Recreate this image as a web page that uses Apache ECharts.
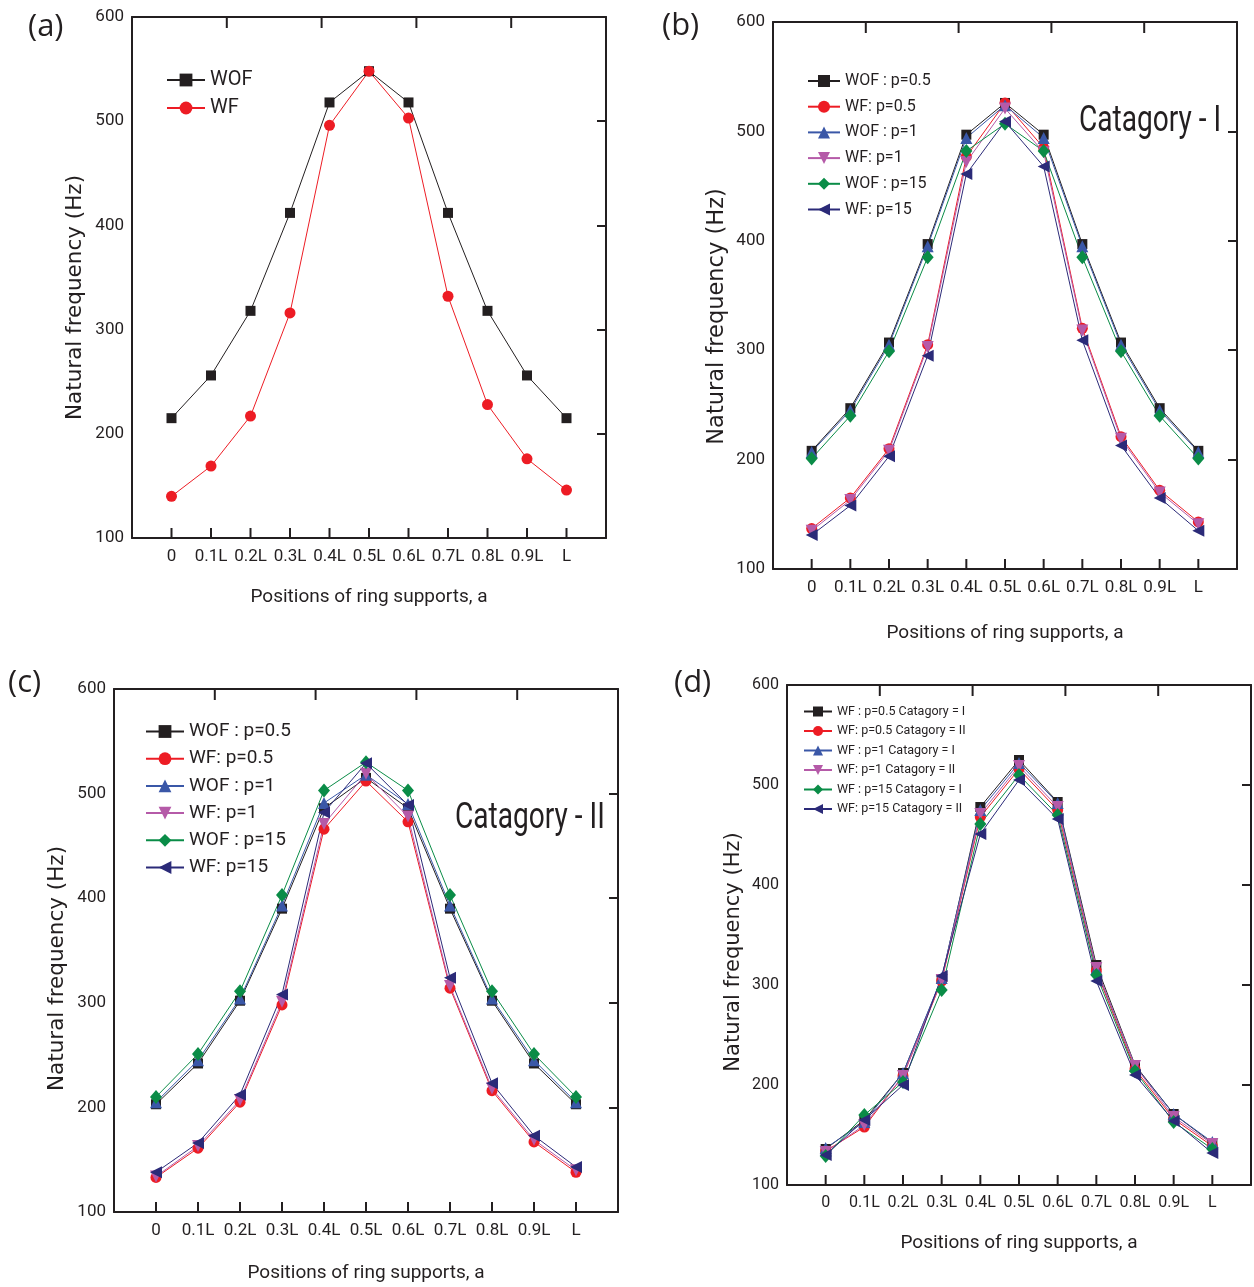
<!DOCTYPE html>
<html>
<head>
<meta charset="utf-8">
<script src="https://cdn.jsdelivr.net/npm/echarts@6/dist/echarts.min.js"></script>
<style>
  html, body { margin: 0; padding: 0; background: #fff; }
  #page { position: relative; width: 1254px; height: 1287px; }
  .layer { position: absolute; left: 0; top: 0; width: 1254px; height: 1287px; }
</style>
</head>
<body>
<div id="page">
  <div id="pa" class="layer"></div>
  <div id="pb" class="layer"></div>
  <div id="pc" class="layer"></div>
  <div id="pd" class="layer"></div>
</div>
<script>
// Support positions along the shell (x axis tick labels)
const POSITIONS = ['0', '0.1L', '0.2L', '0.3L', '0.4L', '0.5L', '0.6L', '0.7L', '0.8L', '0.9L', 'L'];
const Y_TICKS = [100, 200, 300, 400, 500, 600];
const TOP_TICKS = [0, 1, 2, 3, 4, 5];
const X_EXTENT = [-1, 11];

// (a) natural frequency, without / with fluid
const A_WOF = [215, 256, 318, 412, 518, 548, 518, 412, 318, 256, 215];
const A_WF  = [140, 169, 217, 316, 496, 548, 503, 332, 228, 176, 146];

// (b) Catagory - I
const B_WOF_05 = [208, 247, 307, 397, 497, 526, 497, 397, 307, 247, 208];
const B_WF_05  = [137, 165, 210, 305, 477, 526, 485, 320, 221, 172, 143];
const B_WOF_1  = [207, 245, 305, 395, 494, 524, 494, 395, 305, 245, 207];
const B_WF_1   = [135, 163, 208, 303, 472, 521, 481, 318, 219, 170, 141];
const B_WOF_15 = [201, 240, 299, 385, 482, 507, 482, 385, 299, 240, 201];
const B_WF_15  = [131, 158, 203, 295, 461, 509, 468, 309, 213, 165, 135];

// (c) Catagory - II
const C_WOF_05 = [203, 242, 302, 390, 486, 515, 486, 390, 302, 242, 203];
const C_WF_05  = [133, 161, 205, 298, 466, 512, 473, 314, 216, 167, 138];
const C_WOF_1  = [205, 245, 304, 393, 491, 518, 490, 393, 304, 245, 205];
const C_WF_1   = [134, 163, 207, 301, 471, 519, 478, 316, 218, 169, 140];
const C_WOF_15 = [210, 251, 311, 403, 503, 530, 503, 403, 311, 251, 210];
const C_WF_15  = [138, 166, 212, 308, 482, 529, 489, 324, 223, 173, 143];

// (d) with fluid, both categories
const D_05_I  = [136, 165, 212, 306, 478, 525, 483, 320, 220, 171, 142];
const D_05_II = [134, 158, 209, 304, 468, 516, 475, 314, 216, 166, 139];
const D_1_I   = [137, 163, 212, 307, 475, 522, 482, 316, 219, 171, 143];
const D_1_II  = [133, 160, 209, 305, 471, 519, 478, 317, 219, 168, 141];
const D_15_I  = [129, 170, 203, 295, 461, 510, 470, 310, 214, 163, 136];
const D_15_II = [130, 165, 200, 309, 451, 505, 466, 304, 210, 164, 132];

const A_NAMES = ['WOF', 'WF'];
const GROUP_NAMES = ['WOF : p=0.5', 'WF: p=0.5', 'WOF : p=1', 'WF: p=1', 'WOF : p=15', 'WF: p=15'];
const D_NAMES = ['WF : p=0.5 Catagory = I', 'WF: p=0.5 Catagory = II', 'WF : p=1 Catagory = I',
                 'WF: p=1 Catagory = II', 'WF : p=15 Catagory = I', 'WF: p=15 Catagory = II'];

const NARROW = "Roboto, 'Liberation Sans', sans-serif";
const WIDE = "'DejaVu Sans', 'Liberation Sans', sans-serif";
const INK = '#231f20';

const COLORS = {
  black: '#231f20', red: '#ed1c24', blue: '#3a57a7',
  pink: '#b55aa8', green: '#0a8c47', navy: '#2b2a78'
};
const MARKS = {
  square: { symbol: 'rect', size: 10, rotate: 0 },
  circle: { symbol: 'circle', size: 11, rotate: 0 },
  up:     { symbol: 'triangle', size: 12, rotate: 0 },
  down:   { symbol: 'triangle', size: 12, rotate: 180 },
  diamond:{ symbol: 'diamond', size: [12, 14], rotate: 0 },
  left:   { symbol: 'triangle', size: 12, rotate: 90 }
};
const GROUP_STYLE = [
  [COLORS.black, 'square'], [COLORS.red, 'circle'], [COLORS.blue, 'up'],
  [COLORS.pink, 'down'], [COLORS.green, 'diamond'], [COLORS.navy, 'left']
];

function makeSeries(name, values, color, mark) {
  const m = MARKS[mark];
  return {
    type: 'line', name: name, xAxisIndex: 0, yAxisIndex: 0,
    data: values.map((v, k) => [k, v]),
    symbol: m.symbol, symbolSize: m.size, symbolRotate: m.rotate,
    showSymbol: true, animation: false,
    lineStyle: { color: color, width: 1 },
    itemStyle: { color: color }
  };
}

// Inward frame ticks drawn by a custom series through the axes' own scales:
// one per support position on the bottom edge, five even divisions on the top edge
function tickSeries() {
  const topSpan = TOP_TICKS[TOP_TICKS.length - 1] - TOP_TICKS[0];
  const topValues = TOP_TICKS.slice(1, -1).map(t =>
    X_EXTENT[0] + (t - TOP_TICKS[0]) / topSpan * (X_EXTENT[1] - X_EXTENT[0]));
  const mk = (values, yv, dir, len) => ({
    type: 'custom', xAxisIndex: 0, yAxisIndex: 0, silent: true, animation: false, z: 20,
    clip: false,
    data: values.map(v => [v, yv]),
    renderItem: (params, api) => {
      const pt = api.coord([api.value(0), api.value(1)]);
      return {
        type: 'line',
        shape: { x1: pt[0], y1: pt[1], x2: pt[0], y2: pt[1] + dir * len },
        style: { stroke: INK, lineWidth: 2, fill: null }
      };
    }
  });
  return [
    mk(POSITIONS.map((_, k) => k), Y_TICKS[0], -1, 10),
    mk(topValues, Y_TICKS[Y_TICKS.length - 1], 1, 11)
  ];
}

const panelLabel = (text, x, y) => ({
  type: 'text', left: x, top: y,
  style: { text: text, font: "31px 'Open Sans', 'Liberation Sans', sans-serif", fill: INK }
});

// One framed plot: bottom/left labelled axes, top/right mirror axes
function panelOption(p) {
  return {
    backgroundColor: 'transparent',
    animation: false,
    grid: [{ left: p.left, top: p.top, width: p.width, height: p.height }],
    xAxis: [{
      type: 'value', gridIndex: 0, min: X_EXTENT[0], max: X_EXTENT[1], interval: 1,
      name: 'Positions of ring supports, a', nameLocation: 'middle', nameGap: p.nameGap,
      nameTextStyle: { fontFamily: NARROW, fontSize: 19, color: INK },
      axisLine: { onZero: false, lineStyle: { color: INK, width: 2 } },
      axisTick: { show: false },
      axisLabel: {
        fontFamily: NARROW, fontSize: p.tick, color: INK, margin: 10,
        formatter: v => (Number.isInteger(v) && v >= 0 && v < POSITIONS.length) ? POSITIONS[v] : ''
      },
      splitLine: { show: false }
    }, {
      type: 'value', gridIndex: 0, min: TOP_TICKS[0], max: TOP_TICKS[TOP_TICKS.length - 1], interval: 1, position: 'top',
      axisLine: { show: true, onZero: false, lineStyle: { color: INK, width: 2 } },
      axisTick: { show: false },
      axisLabel: { show: false }, splitLine: { show: false }
    }],
    yAxis: [{
      type: 'value', gridIndex: 0, min: Y_TICKS[0], max: Y_TICKS[Y_TICKS.length - 1], interval: 100,
      name: 'Natural frequency (Hz)', nameLocation: 'middle', nameGap: p.yGap,
      nameTextStyle: { fontFamily: WIDE, fontSize: p.yName, color: INK, padding: [0, p.yShift, 0, 0] },
      axisLine: { onZero: false, lineStyle: { color: INK, width: 2 } },
      axisTick: { show: false },
      axisLabel: { fontFamily: NARROW, fontSize: p.tick, color: INK, margin: 8 },
      splitLine: { show: false }
    }, {
      type: 'value', gridIndex: 0, min: 100, max: 600, interval: 100, position: 'right',
      axisLine: { show: true, onZero: false, lineStyle: { color: INK, width: 2 } },
      axisTick: { show: true, inside: true, length: 9, lineStyle: { color: INK, width: 2 } },
      axisLabel: { show: false }, splitLine: { show: false }
    }],
    legend: [Object.assign({ orient: 'vertical', selectedMode: false, padding: 0 }, p.legend)],
    series: p.series.concat(tickSeries()),
    graphic: p.graphic
  };
}

const PANEL_A = {
  left: 132, top: 17, width: 474, height: 521, tick: 17, nameGap: 50, yGap: 46, yShift: 40, yName: 21.5,
  series: [makeSeries(A_NAMES[0], A_WOF, COLORS.black, 'square'),
           makeSeries(A_NAMES[1], A_WF, COLORS.red, 'circle')],
  legend: { left: 166, top: 70, itemWidth: 38, itemHeight: 16, itemGap: 8, data: A_NAMES,
            textStyle: { fontFamily: NARROW, fontSize: 20, color: INK } },
  graphic: [panelLabel('(a)', 28, 12)]
};
const PANEL_B = {
  left: 773, top: 22, width: 464, height: 547, tick: 17, nameGap: 55, yGap: 44, yShift: 42, yName: 22.5,
  series: [B_WOF_05, B_WF_05, B_WOF_1, B_WF_1, B_WOF_15, B_WF_15].map((vals, k) =>
    makeSeries(GROUP_NAMES[k], vals, GROUP_STYLE[k][0], GROUP_STYLE[k][1])),
  legend: { left: 807, top: 73, itemWidth: 32, itemHeight: 15, itemGap: 9.7, data: GROUP_NAMES,
            textStyle: { fontFamily: NARROW, fontSize: 16, color: INK } },
  graphic: [panelLabel('(b)', 662, 11),
            { type: 'text', x: 1079, y: 104, scaleX: 0.78,
              style: { text: 'Catagory - I', font: "36px " + NARROW, fill: INK } }]
};
const PANEL_C = {
  left: 114, top: 689, width: 504, height: 523, tick: 17, nameGap: 52, yGap: 46, yShift: 36, yName: 21.5,
  series: [C_WOF_05, C_WF_05, C_WOF_1, C_WF_1, C_WOF_15, C_WF_15].map((vals, k) =>
    makeSeries(GROUP_NAMES[k], vals, GROUP_STYLE[k][0], GROUP_STYLE[k][1])),
  legend: { left: 145, top: 722, itemWidth: 38, itemHeight: 16, itemGap: 8.2, data: GROUP_NAMES,
            textStyle: { fontFamily: NARROW, fontSize: 19, color: INK } },
  graphic: [panelLabel('(c)', 8, 668),
            { type: 'text', x: 455, y: 801, scaleX: 0.78,
              style: { text: 'Catagory - II', font: "36px " + NARROW, fill: INK } }]
};
const PANEL_D = {
  left: 787, top: 685, width: 470, height: 500, tick: 16, nameGap: 49, yGap: 43, yShift: 34, yName: 21,
  series: [D_05_I, D_05_II, D_1_I, D_1_II, D_15_I, D_15_II].map((vals, k) =>
    makeSeries(D_NAMES[k], vals, GROUP_STYLE[k][0], GROUP_STYLE[k][1])),
  legend: { left: 803, top: 705, itemWidth: 28, itemHeight: 12.5, itemGap: 6.5, data: D_NAMES,
            textStyle: { fontFamily: NARROW, fontSize: 12.5, color: INK } },
  graphic: [panelLabel('(d)', 674, 668)]
};

[['pa', PANEL_A], ['pb', PANEL_B], ['pc', PANEL_C], ['pd', PANEL_D]].forEach(([id, p]) => {
  const chart = echarts.init(document.getElementById(id), null, { renderer: 'canvas' });
  chart.setOption(panelOption(p));
});
</script>
</body>
</html>
